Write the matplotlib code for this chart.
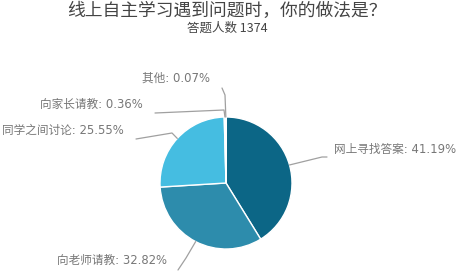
import numpy as np
import matplotlib.pyplot as plt
from matplotlib.patches import Wedge

plt.rcParams['font.family'] = ['Noto Sans CJK SC', 'DejaVu Sans']

#
# Data
#
title = '线上自主学习遇到问题时，你的做法是？'
subtitle = '答题人数 1374'
labels = ['网上寻找答案', '向老师请教', '同学之间讨论', '向家长请教', '其他']
shares = [41.19, 32.82, 25.55, 0.36, 0.07]
colors = ['#0c6686', '#2d8cac', '#45bde1', '#5cc8e6', '#7fd5ee']

#
# Layout (pixel coords, y down)
#
W, H = 464, 272
cx, cy, R = 226, 183, 66
# label text anchor (x, y, ha) and leader path points after the slice edge
label_pos = [(334, 149, 'left'), (167, 260, 'right'), (124, 130, 'right'),
             (143, 104, 'right'), (210, 78, 'right')]
leader_pts = [[(322, 157), (327, 157)],
              [(186, 258), (178, 270)],
              [(172, 133), (136, 139)],
              [(224, 110), (155, 113)],
              [(225, 95), (222, 88)]]

fig = plt.figure(figsize=(W / 100, H / 100), dpi=100)
ax = fig.add_axes([0, 0, 1, 1])
ax.set_xlim(0, W)
ax.set_ylim(H, 0)
ax.axis('off')

# slices, clockwise from the top (y axis points down, so angles go clockwise)
start = -90.0
mids = []
for val, col in zip(shares, colors):
    span = 360.0 * val / sum(shares)
    ax.add_patch(Wedge((cx, cy), R, start, start + span, facecolor=col,
                       edgecolor='white', linewidth=1.0))
    mids.append(np.deg2rad(start + span / 2))
    start += span

for i, (lab, val) in enumerate(zip(labels, shares)):
    a = mids[i]
    x0, y0 = cx + R * np.cos(a), cy + R * np.sin(a)
    xs = [x0] + [p[0] for p in leader_pts[i]]
    ys = [y0] + [p[1] for p in leader_pts[i]]
    ax.plot(xs, ys, color='#a0a0a0', lw=0.9, solid_capstyle='round')
    tx, ty, ha = label_pos[i]
    ax.text(tx, ty, f'{lab}: {val:.2f}%', ha=ha, va='center',
            fontsize=8.4, color='#777777', family=['DejaVu Sans', 'Noto Sans CJK SC'])

ax.text(227, 11, title, ha='center', va='center', fontsize=12.8, color='#444444')
ax.text(227, 28.5, subtitle, ha='center', va='center', fontsize=9.0, color='#444444')

fig.savefig('out.png', dpi=100)
